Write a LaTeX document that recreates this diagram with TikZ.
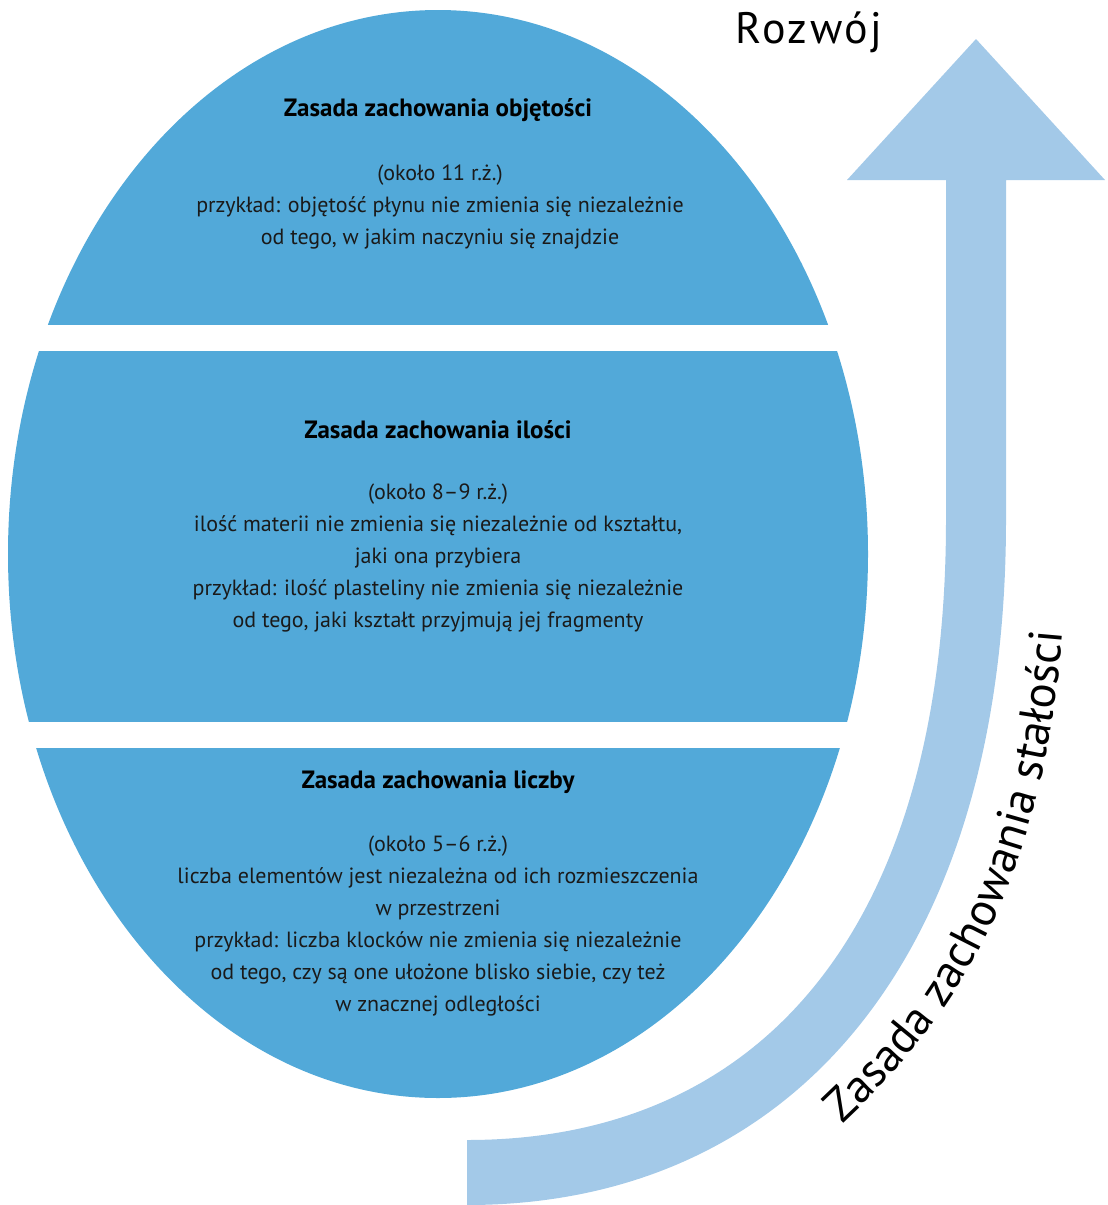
\documentclass[tikz,border=0pt]{standalone}
\usepackage{fontspec}
\setmainfont{PT Sans}
\usetikzlibrary{decorations.text}
\definecolor{bandblue}{HTML}{52A9D9}
\definecolor{arrowblue}{HTML}{A3C9E8}
\definecolor{ink}{HTML}{1A1A1A}
\tikzset{
  heading/.style={font=\fontsize{25}{28}\selectfont\bfseries, text=black, inner sep=0pt},
  bodytext/.style={font=\fontsize{22}{32}\selectfont, text=ink, align=center, inner sep=0pt},
}
\begin{document}
\begin{tikzpicture}[x=1pt, y=-1pt]
  \useasboundingbox (0,0) rectangle (1108,1205);
  % three bands of one ellipse
  \fill[bandblue] (438,554) ellipse [x radius=430, y radius=544];
  \fill[white] (0,325) rectangle (880,351);
  \fill[white] (0,722) rectangle (880,748);
  % curved development arrow
  \fill[arrowblue] (467,1140) .. controls (760,1140) and (946,930) .. (946,520)
    -- (946,180) -- (847,180) -- (976,39) -- (1105,180) -- (1006,180) -- (1006,520)
    .. controls (1006,960) and (790,1205) .. (467,1205) -- cycle;
  \node[font=\fontsize{44}{44}\selectfont, anchor=base] (rozwoj) at (809,43)
    {\addfontfeature{LetterSpace=6}Rozwój};
  % label following the arrow
  \path[decorate, decoration={text along path, text align=left,
      text={|\fontsize{47}{47}\selectfont|Zasada zachowania stałości}}]
    (842,1124) .. controls (964,1010) and (1068,860) .. (1068,500);
  % top band
  \node[heading] (h1) at (438,110) {Zasada zachowania objętości};
  \node[bodytext] (b1) at (440,207) {(około 11 r.ż.)\\
    przykład: objętość płynu nie zmienia się niezależnie\\
    od tego, w jakim naczyniu się znajdzie};
  % middle band
  \node[heading] (h2) at (438,430) {Zasada zachowania ilości};
  \node[bodytext] (b2) at (438,558) {(około 8–9 r.ż.)\\
    ilość materii nie zmienia się niezależnie od kształtu,\\
    jaki ona przybiera\\
    przykład: ilość plasteliny nie zmienia się niezależnie\\
    od tego, jaki kształt przyjmują jej fragmenty};
  % bottom band
  \node[heading] (h3) at (438,782) {Zasada zachowania liczby};
  \node[bodytext] (b3) at (438,926) {(około 5–6 r.ż.)\\
    liczba elementów jest niezależna od ich rozmieszczenia\\
    w przestrzeni\\
    przykład: liczba klocków nie zmienia się niezależnie\\
    od tego, czy są one ułożone blisko siebie, czy też\\
    w znacznej odległości};
\end{tikzpicture}
\end{document}
